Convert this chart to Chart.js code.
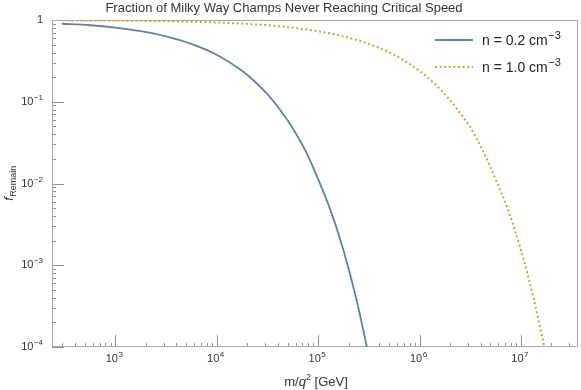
<!DOCTYPE html>
<html>
<head>
<meta charset="utf-8">
<style>
  html, body { margin: 0; padding: 0; background: #fff; }
</style>
</head>
<body>
<canvas id="myChart" width="581" height="390"></canvas>
<script src="https://cdn.jsdelivr.net/npm/chart.js@4.4.0/dist/chart.umd.min.js"></script>
<script>
// values
var chartTitle = 'Fraction of Milky Way Champs Never Reaching Critical Speed';

var massLow = [298, 562, 1000, 1778, 3162, 5623, 10000, 17783, 23714, 31623, 42170, 56234, 74990, 100000, 133000, 177800, 237000, 303000];
var fracLow = [0.90, 0.862, 0.805, 0.729, 0.63, 0.51, 0.375, 0.239, 0.177, 0.124, 0.080, 0.0475, 0.0252, 0.0113, 0.00466, 0.00153, 0.000397, 0.0001];

var massHigh = [298, 1000, 3162, 10000, 31623, 56234, 100000, 177800, 316000, 562000, 1000000, 1330000, 1778000, 2371000, 3162000, 4217000, 5623000, 7500000, 10000000, 13300000, 17000000];
var fracHigh = [0.99, 0.985, 0.968, 0.933, 0.862, 0.805, 0.729, 0.63, 0.51, 0.375, 0.239, 0.177, 0.124, 0.080, 0.049, 0.0252, 0.0113, 0.00466, 0.00153, 0.000397, 0.0001];

var seriesNames = ['n = 0.2 cm', 'n = 1.0 cm'];
var seriesUnitExp = '\u22123';

var xTickValues = [1e3, 1e4, 1e5, 1e6, 1e7];
var xTickExps = ['3', '4', '5', '6', '7'];
var yTickValues = [1, 1e-1, 1e-2, 1e-3, 1e-4];
var yTickExps = ['', '\u22121', '\u22122', '\u22123', '\u22124'];

var xMin = 238, xMax = 3.65e7;
var yMin = 1e-4, yMax = 1;

var FONT = '"Liberation Sans", Arial, Helvetica, sans-serif';
var blue = '#5E81B5';
var orange = '#E19C24';

function toPoints(xs, ys) {
  return xs.map(function(x, i) { return { x: x, y: ys[i] }; });
}

function drawPow(ctx, base, exp, x, y, align, size) {
  var supSize = Math.round(size * 0.75);
  ctx.font = size + 'px ' + FONT;
  var wb = ctx.measureText(base).width;
  ctx.font = supSize + 'px ' + FONT;
  var we = exp ? ctx.measureText(exp).width + 0.5 : 0;
  var total = wb + we;
  var x0 = x;
  if (align === 'right') x0 = x - total;
  if (align === 'center') x0 = x - total / 2;
  ctx.textAlign = 'left';
  ctx.textBaseline = 'middle';
  ctx.font = size + 'px ' + FONT;
  ctx.fillText(base, x0, y);
  if (exp) {
    ctx.font = supSize + 'px ' + FONT;
    ctx.fillText(exp, x0 + wb + 0.5, y - size * 0.38);
  }
}

function seg(ctx, x1, y1, x2, y2) {
  ctx.beginPath();
  ctx.moveTo(x1, y1);
  ctx.lineTo(x2, y2);
  ctx.stroke();
}

var framePlugin = {
  id: 'framePlugin',
  beforeDatasetsDraw: function(chart) {
    var ctx = chart.ctx, a = chart.chartArea;
    var xs = chart.scales.x, ys = chart.scales.y;
    ctx.save();
    ctx.lineWidth = 1;
    ctx.strokeStyle = '#8f8f8f';
    // bottom ticks
    for (var d = 2; d <= 7; d++) {
      for (var k = 1; k <= 9; k++) {
        var v = k * Math.pow(10, d);
        if (v < xMin || v > xMax) continue;
        var px = Math.round(xs.getPixelForValue(v)) + 0.5;
        seg(ctx, px, a.bottom, px, a.bottom - (k === 1 ? 12 : 4));
      }
    }
    // left ticks
    for (var e = -4; e <= 0; e++) {
      for (var j = 1; j <= 9; j++) {
        var w = j * Math.pow(10, e);
        if (w < yMin * 0.999 || w > yMax * 1.001) continue;
        var py = Math.round(ys.getPixelForValue(w)) + 0.5;
        seg(ctx, a.left, py, a.left + (j === 1 ? 12 : 4), py);
      }
    }
    // frame
    ctx.strokeStyle = '#a8a8a8';
    ctx.strokeRect(a.left + 0.5, a.top + 0.5, a.right - a.left - 1, a.bottom - a.top - 1);
    ctx.restore();
  },
  afterDraw: function(chart) {
    var ctx = chart.ctx, a = chart.chartArea;
    var xs = chart.scales.x, ys = chart.scales.y;
    ctx.save();
    ctx.fillStyle = '#333';
    // tick labels
    xTickValues.forEach(function(v, i) {
      drawPow(ctx, '10', xTickExps[i], xs.getPixelForValue(v) - 1, a.bottom + 12, 'center', 11);
    });
    yTickValues.forEach(function(v, i) {
      drawPow(ctx, i === 0 ? '1' : '10', yTickExps[i], a.left - 9, ys.getPixelForValue(v), 'right', 11);
    });

    // title
    ctx.fillStyle = '#333';
    ctx.font = '13px ' + FONT;
    ctx.textAlign = 'center';
    ctx.textBaseline = 'middle';
    ctx.fillText(chartTitle, 284, 8);

    // x axis label: m/q^2 [GeV]
    ctx.textAlign = 'left';
    ctx.textBaseline = 'alphabetic';
    var parts = [
      { t: 'm/', f: '13px ' + FONT, dy: 0 },
      { t: 'q', f: 'italic 13px ' + FONT, dy: 0 },
      { t: '2', f: '9px ' + FONT, dy: -6 },
      { t: ' [GeV]', f: '13px ' + FONT, dy: 0 }
    ];
    var tw = 0;
    parts.forEach(function(p) { ctx.font = p.f; tw += ctx.measureText(p.t).width; });
    var cx = (a.left + a.right) / 2 - tw / 2 + 1;
    parts.forEach(function(p) {
      ctx.font = p.f;
      ctx.fillText(p.t, cx, 386 + p.dy);
      cx += ctx.measureText(p.t).width;
    });

    // y axis label: f_Remain (rotated)
    ctx.save();
    ctx.translate(13, (a.top + a.bottom) / 2);
    ctx.rotate(-Math.PI / 2);
    ctx.font = 'italic 13px ' + FONT;
    var wf = ctx.measureText('f').width;
    ctx.font = '9px ' + FONT;
    var ws = ctx.measureText('Remain').width;
    var sx = -(wf + ws) / 2;
    ctx.font = 'italic 13px ' + FONT;
    ctx.fillText('f', sx, 0);
    ctx.font = '9px ' + FONT;
    ctx.fillText('Remain', sx + wf + 0.5, 3);
    ctx.restore();

    // legend
    var legendColors = [blue, orange];
    var legendY = [40, 67];
    seriesNames.forEach(function(name, i) {
      ctx.strokeStyle = legendColors[i];
      ctx.lineWidth = i === 0 ? 1.8 : 2;
      ctx.setLineDash(i === 0 ? [] : [2, 2.6]);
      seg(ctx, 435, legendY[i], 473, legendY[i]);
      ctx.setLineDash([]);
      ctx.fillStyle = '#222';
      drawPow(ctx, name, seriesUnitExp, 482, legendY[i] + 1, 'left', 14);
    });
    ctx.restore();
  }
};

new Chart(document.getElementById('myChart'), {
  type: 'line',
  data: {
    datasets: [
      {
        label: seriesNames[0],
        data: toPoints(massLow, fracLow),
        borderColor: blue,
        borderWidth: 1.8,
        pointRadius: 0,
        fill: false,
        cubicInterpolationMode: 'monotone'
      },
      {
        label: seriesNames[1],
        data: toPoints(massHigh, fracHigh),
        borderColor: orange,
        borderWidth: 2,
        borderDash: [2, 2.6],
        pointRadius: 0,
        fill: false,
        cubicInterpolationMode: 'monotone'
      }
    ]
  },
  options: {
    responsive: false,
    animation: false,
    layout: { padding: { left: 52, right: 3, top: 20, bottom: 43 } },
    plugins: {
      legend: { display: false },
      tooltip: { enabled: false },
      title: { display: false }
    },
    scales: {
      x: { type: 'logarithmic', min: xMin, max: xMax, display: false },
      y: { type: 'logarithmic', min: yMin, max: yMax, display: false }
    }
  },
  plugins: [framePlugin]
});
</script>
</body>
</html>
